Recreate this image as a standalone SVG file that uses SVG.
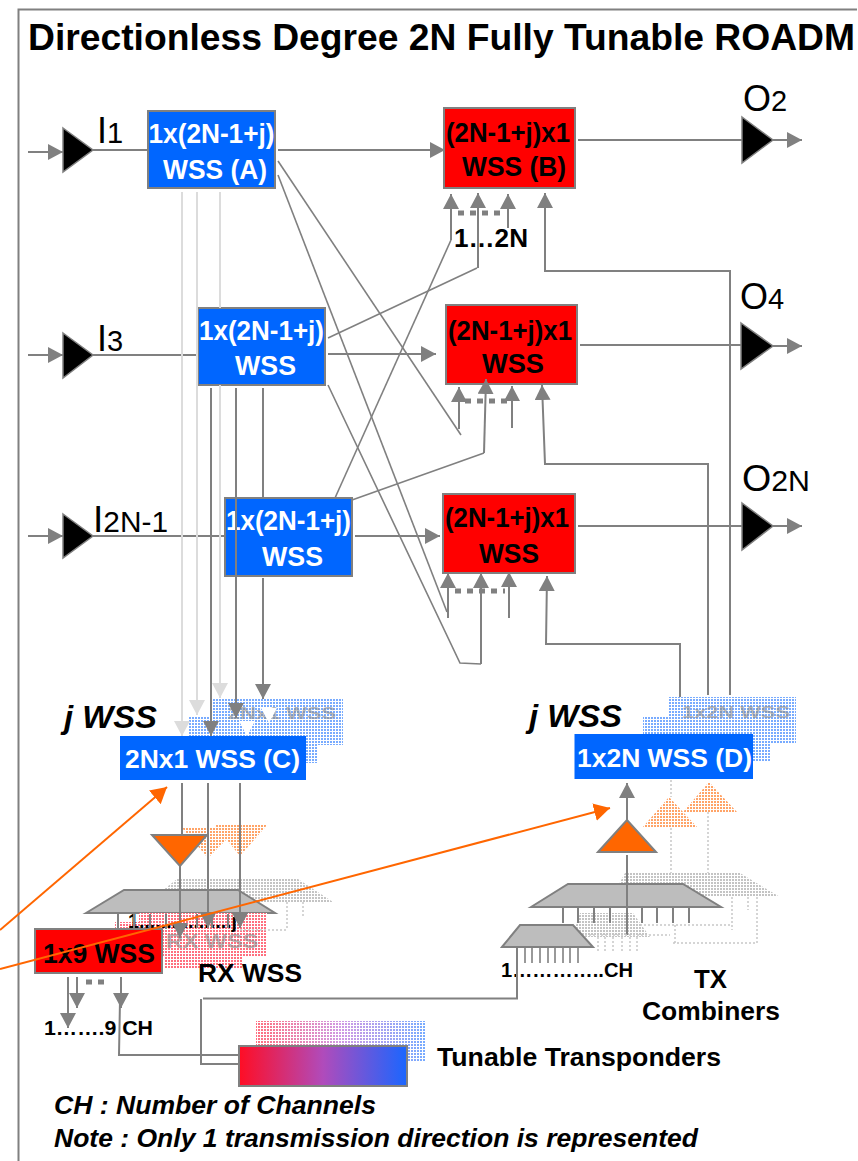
<svg xmlns="http://www.w3.org/2000/svg" width="858" height="1161" viewBox="0 0 858 1161">
<style>
text{font-family:"Liberation Sans",Arial,sans-serif;font-weight:bold;fill:#000}
.w{fill:#fff}
.r{font-weight:normal}
.i{font-style:italic}
.g{fill:#8a8a8a;opacity:.6}
.c{font-size:27px}
.bx{stroke:#808080;stroke-width:2}
.blue{fill:#0066ff}
.red{fill:#ff0000}
.amp{fill:#000;stroke:#808080;stroke-width:1.5}
.tz{fill:#bdbdbd;stroke:#808080;stroke-width:2}
.or{fill:#ff6600;stroke:#808080;stroke-width:2}
.db{fill:url(#dBlue)}.dr{fill:url(#dRed)}.do{fill:url(#dOrange)}.dg{fill:url(#dGray)}
#connectors path{fill:none;stroke:#808080;stroke-width:2}
#connectors .a{marker-end:url(#ah)}
#connectors .l{stroke:#dcdcdc;marker-end:url(#ahL)}
#connectors .wa{stroke:none;marker-end:url(#ahW)}
#connectors .d{stroke-width:5;stroke-dasharray:6 6}
#connectors .t{stroke-width:1.6}
#connectors .gh{stroke:#c8c8c8;stroke-width:1.5;stroke-dasharray:2 2}
#connectors .o{stroke:#ff6600;marker-end:url(#ahO)}
</style>
<defs>
<marker id="ah" markerUnits="userSpaceOnUse" markerWidth="16" markerHeight="16" refX="15" refY="8" orient="auto"><path d="M0 0L15 8L0 16Z" fill="#808080"/></marker>
<marker id="ahL" markerUnits="userSpaceOnUse" markerWidth="16" markerHeight="16" refX="15" refY="8" orient="auto"><path d="M0 0L15 8L0 16Z" fill="#dcdcdc"/></marker>
<marker id="ahW" markerUnits="userSpaceOnUse" markerWidth="16" markerHeight="16" refX="15" refY="8" orient="auto"><path d="M0 0L15 8L0 16Z" fill="#fff"/></marker>
<marker id="ahO" markerUnits="userSpaceOnUse" markerWidth="17" markerHeight="18" refX="16" refY="9" orient="auto"><path d="M0 0L16 9L0 18Z" fill="#ff6600"/></marker>
<pattern id="dBlue" patternUnits="userSpaceOnUse" width="3" height="3"><rect width="3" height="3" fill="#fff"/><rect width="2" height="2" fill="#78abff"/></pattern>
<pattern id="dRed" patternUnits="userSpaceOnUse" width="3" height="3"><rect width="3" height="3" fill="#fff"/><rect width="2" height="2" fill="#ff6f7f"/></pattern>
<pattern id="dOrange" patternUnits="userSpaceOnUse" width="3" height="3"><rect width="3" height="3" fill="#fff"/><rect width="2" height="2" fill="#ffa468"/></pattern>
<pattern id="dGray" patternUnits="userSpaceOnUse" width="3" height="3"><rect width="3" height="3" fill="#fff"/><rect width="2" height="2" fill="#c4c4c4"/></pattern>
<pattern id="dWhite" patternUnits="userSpaceOnUse" width="3" height="3"><path d="M2.500 0V3M0 2.500H3" stroke="#fff" fill="none"/></pattern>
<linearGradient id="grad"><stop offset="0" stop-color="#ff0d24"/><stop offset=".5" stop-color="#b04bbb"/><stop offset="1" stop-color="#1a66ff"/></linearGradient>
<linearGradient id="gradL"><stop offset="0" stop-color="#ff6f7f"/><stop offset=".5" stop-color="#d098e4"/><stop offset="1" stop-color="#78abff"/></linearGradient>
</defs>
<rect width="858" height="1161" fill="#fff"/>
<g id="frame"><path d="M857 9.500H18.500V1161" fill="none" stroke="#808080" stroke-width="2"/></g>
<text id="title" x="28" y="50" font-size="37" textLength="827" lengthAdjust="spacingAndGlyphs">Directionless Degree 2N Fully Tunable ROADM</text>

<g id="amp-i1"><path class="amp" d="M63 128L93 150L63 172Z"/><text class="r" x="97" y="143" font-size="36">I<tspan font-size="29">1</tspan></text></g>
<g id="amp-i3"><path class="amp" d="M63 333L93 355L63 378Z"/><text class="r" x="97" y="351" font-size="36">I<tspan font-size="29">3</tspan></text></g>
<g id="amp-i2n"><path class="amp" d="M63 514L93 536L63 558Z"/><text class="r" x="93" y="532" font-size="36" textLength="75" lengthAdjust="spacingAndGlyphs">I<tspan font-size="29">2N-1</tspan></text></g>
<g id="amp-o2"><path class="amp" d="M742 117L773 140L742 163Z"/><text class="r" x="743" y="111" font-size="36">O<tspan font-size="29">2</tspan></text></g>
<g id="amp-o4"><path class="amp" d="M741 323L773 346L741 369Z"/><text class="r" x="740" y="309" font-size="36">O<tspan font-size="29">4</tspan></text></g>
<g id="amp-o2n"><path class="amp" d="M742 503L773 526L742 550Z"/><text class="r" x="742" y="491" font-size="36" textLength="68" lengthAdjust="spacingAndGlyphs">O<tspan font-size="29">2N</tspan></text></g>

<g id="wss-a"><rect class="bx blue" x="148" y="111" width="127" height="77"/><text class="w c" x="148.500" y="143" textLength="126" lengthAdjust="spacingAndGlyphs">1x(2N-1+j)</text><text class="w c" x="163" y="179" textLength="104" lengthAdjust="spacingAndGlyphs">WSS (A)</text></g>
<g id="wss-i3"><rect class="bx blue" x="198" y="308" width="127" height="77"/><text class="w c" x="199" y="340" textLength="125" lengthAdjust="spacingAndGlyphs">1x(2N-1+j)</text><text class="w c" x="235" y="375" textLength="61" lengthAdjust="spacingAndGlyphs">WSS</text></g>
<g id="wss-i2n"><rect class="bx blue" x="225" y="498" width="127" height="78"/><text class="w c" x="226" y="530" textLength="125" lengthAdjust="spacingAndGlyphs">1x(2N-1+j)</text><text class="w c" x="262" y="566" textLength="61" lengthAdjust="spacingAndGlyphs">WSS</text></g>
<g id="wss-b"><rect class="bx red" x="444" y="108" width="131" height="80"/><text class="c" x="446" y="142" textLength="124" lengthAdjust="spacingAndGlyphs">(2N-1+j)x1</text><text class="c" x="462" y="176" textLength="104" lengthAdjust="spacingAndGlyphs">WSS (B)</text></g>
<g id="wss-o4"><rect class="bx red" x="446" y="305" width="131" height="79"/><text class="c" x="448" y="340" textLength="124" lengthAdjust="spacingAndGlyphs">(2N-1+j)x1</text><text class="c" x="482" y="373" textLength="62" lengthAdjust="spacingAndGlyphs">WSS</text></g>
<g id="wss-o2n"><rect class="bx red" x="443" y="494" width="132" height="79"/><text class="c" x="445" y="527" textLength="124" lengthAdjust="spacingAndGlyphs">(2N-1+j)x1</text><text class="c" x="479" y="563" textLength="60" lengthAdjust="spacingAndGlyphs">WSS</text></g>
<text id="label-1-2n" x="454" y="247" font-size="25" textLength="74" lengthAdjust="spacingAndGlyphs">1…2N</text>

<g id="wss-c">
<rect class="db" x="213" y="698" width="130" height="47"/><rect class="db" x="189" y="717" width="129" height="46"/>
<text class="g" x="228" y="719" font-size="17" textLength="108" lengthAdjust="spacingAndGlyphs">2Nx1 WSS</text>
<rect class="blue" x="120" y="736" width="186" height="44"/>
<text class="w" x="125" y="768" font-size="26" textLength="175" lengthAdjust="spacingAndGlyphs">2Nx1 WSS (C)</text>
<text class="i" x="64" y="728" font-size="32" textLength="93" lengthAdjust="spacingAndGlyphs">j WSS</text></g>

<g id="wss-d">
<rect class="db" x="668" y="697" width="128" height="46"/><rect class="db" x="643" y="716" width="128" height="46"/>
<text class="g" x="682" y="718" font-size="17" textLength="108" lengthAdjust="spacingAndGlyphs">1x2N WSS</text>
<rect class="blue" x="574.500" y="734" width="178.500" height="45"/>
<text class="w" x="577" y="767" font-size="26" textLength="175" lengthAdjust="spacingAndGlyphs">1x2N WSS (D)</text>
<text class="i" x="529" y="727" font-size="32" textLength="93" lengthAdjust="spacingAndGlyphs">j WSS</text></g>

<g id="rx-filters">
<path class="do" d="M182 828H238L208 858Z"/><path class="do" d="M214 824H268L240 856Z"/>
<path class="or" d="M152 835H207L180 866Z"/></g>
<g id="rx-splitter">
<path class="dg" d="M148 902L177 879H298L333 902Z"/>
<path class="tz" d="M86 913L124 890H238L275 913Z"/></g>
<g id="rx-wss">
<rect class="dr" x="115" y="922" width="60" height="30"/><rect class="dr" x="139" y="913" width="128" height="44"/><rect class="dr" x="165" y="950" width="77" height="18"/>
<text class="g" x="166" y="948" font-size="20" textLength="92" lengthAdjust="spacingAndGlyphs">RX WSS</text>
<rect class="bx red" x="35" y="929" width="127" height="44"/>
<text x="43" y="963" font-size="27" textLength="112" lengthAdjust="spacingAndGlyphs">1x9 WSS</text>
<text x="128" y="928" font-size="21" textLength="109" lengthAdjust="spacingAndGlyphs">1.................j</text>
<text x="198" y="982" font-size="25" textLength="104" lengthAdjust="spacingAndGlyphs">RX WSS</text>
<text x="44" y="1035" font-size="21" textLength="109" lengthAdjust="spacingAndGlyphs">1…….9 CH</text></g>

<g id="tx-filters">
<path class="do" d="M642 828L669 797L698 828Z"/><path class="do" d="M683 812L709 782L737 812Z"/>
<path class="or" d="M598 852L627 820L656 852Z"/></g>
<g id="tx-combiners">
<path class="dg" d="M612 897L625 873H740L780 897Z"/>
<path class="dg" d="M572 937L580 913H633L650 937Z"/>
<path class="tz" d="M531 907L568 884H683L721 907Z"/>
<path class="tz" d="M502 947L520 925H573L593 947Z"/>
<text x="501" y="977" font-size="21" textLength="132" lengthAdjust="spacingAndGlyphs">1…………..CH</text>
<text x="694" y="988" font-size="25" textLength="33" lengthAdjust="spacingAndGlyphs">TX</text>
<text x="642" y="1020" font-size="25" textLength="138" lengthAdjust="spacingAndGlyphs">Combiners</text></g>

<g id="transponders">
<rect fill="url(#gradL)" x="256" y="1021" width="169" height="41"/><rect fill="url(#dWhite)" x="256" y="1021" width="169" height="41"/>
<rect x="239" y="1046" width="168" height="40" fill="url(#grad)" class="bx"/>
<text x="437" y="1066" font-size="25" textLength="284" lengthAdjust="spacingAndGlyphs">Tunable Transponders</text></g>

<g id="notes">
<text class="i" x="54" y="1114" font-size="26" textLength="322" lengthAdjust="spacingAndGlyphs">CH : Number of Channels</text>
<text class="i" x="54" y="1147" font-size="26" textLength="644" lengthAdjust="spacingAndGlyphs">Note : Only 1 transmission direction is represented</text></g>

<g id="connectors">
<path class="a" d="M28 152H63"/><path d="M93 150H148"/>
<path class="a" d="M28 355H63"/><path d="M93 355H198"/>
<path class="a" d="M28 536H63"/><path d="M93 536H225"/>
<path class="a" d="M773 140H802"/><path class="a" d="M773 346H802"/><path class="a" d="M773 526H802"/>
<path d="M578 140H742"/><path d="M580 345H741"/><path d="M578 526H742"/>
<path class="a" d="M278 150H445"/><path class="a" d="M328 354H436"/><path class="a" d="M355 536H440"/>

<path class="t" d="M278 161L461 435"/>
<path class="t" d="M278 175L447 612"/>
<path class="t" d="M328 385L460 663L481 664"/>
<path class="t" d="M328 338L477 268"/>
<path class="t" d="M335 498L451 240"/>
<path class="t" d="M352 500L484 453"/>

<path class="a" d="M451 240V194"/><path class="a" d="M478 268V193"/><path class="a" d="M508 228V194"/>
<path class="a" d="M730 695V271H545V193"/>
<path class="d" d="M458 213H502"/>
<path class="a" d="M459 429V387"/><path class="a" d="M484 453L486 379"/><path class="a" d="M512 428V386"/>
<path class="a" d="M708 695V464H545L542 385"/>
<path class="d" d="M465 401H508"/>
<path class="a" d="M448 618V573"/><path class="a" d="M481 664V573"/><path class="a" d="M509 618V572"/>
<path class="a" d="M680 697V644H546L547 576"/>
<path class="d" d="M455 591H505"/>

<path class="l" d="M182 192V736"/><path class="l" d="M197 192V715"/><path class="l" d="M220 192V308M220 385V698"/>
<path class="a" d="M211 388V736"/><path class="a" d="M236 388V718"/><path d="M263 388V498"/><path class="a" d="M263 578V699"/>
<path class="wa" d="M269 705V723"/><path class="wa" d="M247 718V736"/>

<path d="M182 783V835"/><path class="a" d="M180 866V938"/>
<path class="a" d="M208 783V928"/><path class="a" d="M240 783V928"/>
<path d="M118 914V929M134 914V929M150 914V929M166 914V929M197 914V928M212 914V928M228 914V928" />
<path class="gh" d="M287 902V930M303 902V918M240 930H287"/>

<path class="a" d="M68 977V1028"/><path class="a" d="M77 977V1008"/><path class="d" d="M86 982H105"/><path class="a" d="M121 977V1008"/>
<path d="M120 1000L119 1055H239"/>
<path d="M239 1064H200M201 1064V999"/><path d="M203 998.500H517V947"/>

<path class="a" d="M627 820V783"/><path d="M627 855V935"/>
<path d="M563 908V923M578 908V923M594 908V923M610 908V923M642 908V923M657 908V923M673 908V923M689 908V923"/>
<path class="t" d="M525 948V963M532 948V963M540 948V963M548 948V963M555 948V963M563 948V963M570 948V963M578 948V963M517 948V963"/>
<path class="gh" d="M671 780V797M671 828V873M708 812V873"/>
<path class="gh" d="M640 925H730M585 935H670M675 925V945M757 897V943M673 943H757M732 897V930M748 897V910"/>
<path class="gh" d="M598 937V953M605 937V953M613 937V953M622 937V953M630 937V953M637 937V953"/>
<path class="o" d="M0 930L167 787"/>
<path class="o" d="M0 969L610 808"/>
</g>
</svg>
